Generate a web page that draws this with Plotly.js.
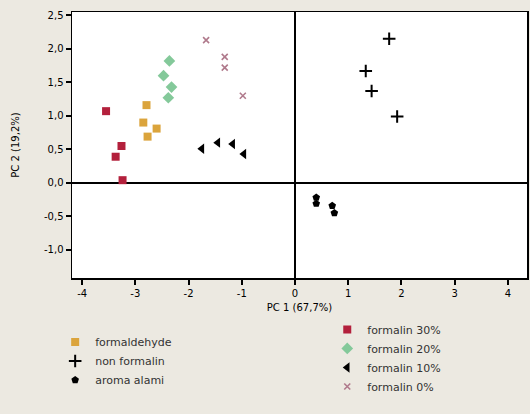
<!DOCTYPE html>
<html>
<head>
<meta charset="utf-8">
<script src="https://cdn.plot.ly/plotly-3.0.1.min.js"></script>
<style>html,body{margin:0;padding:0;background:#ece9e1;}#chart{width:530px;height:414px;}</style>
</head>
<body>
<div id="chart"></div>
<script>
// Series values (PC1, PC2)
const formaldehydeX = [-2.79, -2.85, -2.60, -2.77];
const formaldehydeY = [1.16, 0.90, 0.81, 0.69];
const nonFormalinX = [1.77, 1.33, 1.44, 1.92];
const nonFormalinY = [2.15, 1.67, 1.37, 0.99];
const aromaX = [0.40, 0.40, 0.70, 0.74];
const aromaY = [-0.22, -0.31, -0.34, -0.45];
const f30X = [-3.55, -3.26, -3.37, -3.24];
const f30Y = [1.07, 0.55, 0.39, 0.04];
const f20X = [-2.36, -2.47, -2.32, -2.38];
const f20Y = [1.82, 1.60, 1.43, 1.27];
const f10X = [-1.75, -1.45, -1.17, -0.96];
const f10Y = [0.51, 0.60, 0.58, 0.43];
const f0X = [-1.67, -1.32, -1.32, -0.98];
const f0Y = [2.13, 1.88, 1.72, 1.30];
const xTicks = [-4, -3, -2, -1, 0, 1, 2, 3, 4];
const yTicks = [-1.0, -0.5, 0.0, 0.5, 1.0, 1.5, 2.0, 2.5];
const yTickText = ['-1,0', '-0,5', '0,0', '0,5', '1,0', '1,5', '2,0', '2,5'];

function tr(name, x, y, symbol, color, size, legend, lineWidth) {
  return {
    type: 'scatter', mode: 'markers', name: name, x: x, y: y, legend: legend,
    marker: {symbol: symbol, color: color, size: size,
             line: {color: color, width: lineWidth || 0}}
  };
}

const data = [
  tr('formaldehyde', formaldehydeX, formaldehydeY, 'square', '#dba43c', 8, 'legend'),
  tr('non formalin', nonFormalinX, nonFormalinY, 'cross-thin', '#000000', 9, 'legend', 2),
  tr('aroma alami', aromaX, aromaY, 'pentagon', '#000000', 8, 'legend'),
  tr('formalin 30%', f30X, f30Y, 'square', '#b3203c', 8, 'legend2'),
  tr('formalin 20%', f20X, f20Y, 'diamond', '#84c99a', 9, 'legend2'),
  tr('formalin 10%', f10X, f10Y, 'triangle-left', '#000000', 9, 'legend2'),
  tr('formalin 0%', f0X, f0Y, 'x-thin', '#b07a8c', 6, 'legend2', 1.6)
];

const layout = {
  width: 530, height: 414,
  paper_bgcolor: '#ece9e1', plot_bgcolor: '#ffffff',
  margin: {l: 72, r: 3, t: 12, b: 136},
  font: {family: 'DejaVu Sans, sans-serif', size: 10, color: '#222'},
  xaxis: {
    range: [-4.19, 4.36], tickvals: xTicks, ticktext: xTicks.map(String),
    ticks: 'outside', ticklen: 5, tickwidth: 2, tickcolor: '#000',
    showgrid: false, zeroline: true, zerolinecolor: '#000', zerolinewidth: 1.5,
    showline: true, linecolor: '#000', linewidth: 1.5, mirror: true,
    tickfont: {size: 10, color: '#000'},
    title: {text: 'PC 1 (67,7%)', font: {size: 10, color: '#000'}, standoff: 6}
  },
  yaxis: {
    range: [-1.42, 2.55], tickvals: yTicks, ticktext: yTickText,
    ticks: 'outside', ticklen: 5, tickwidth: 2, tickcolor: '#000',
    showgrid: false, zeroline: true, zerolinecolor: '#000', zerolinewidth: 1.5,
    showline: true, linecolor: '#000', linewidth: 1.5, mirror: true,
    tickfont: {size: 10, color: '#000'},
    title: {text: 'PC 2 (19,2%)', font: {size: 10, color: '#000'}, standoff: 22}
  },
  legend: {x: -0.037, y: -0.186, xanchor: 'left', yanchor: 'top', bgcolor: 'rgba(0,0,0,0)',
           font: {size: 11, color: '#333'}, itemwidth: 30, tracegroupgap: 0},
  legend2: {x: 0.561, y: -0.139, xanchor: 'left', yanchor: 'top', bgcolor: 'rgba(0,0,0,0)',
            font: {size: 11, color: '#333'}, itemwidth: 30, tracegroupgap: 0},
  showlegend: true
};

Plotly.newPlot('chart', data, layout, {displayModeBar: false, staticPlot: true});
</script>
</body>
</html>
